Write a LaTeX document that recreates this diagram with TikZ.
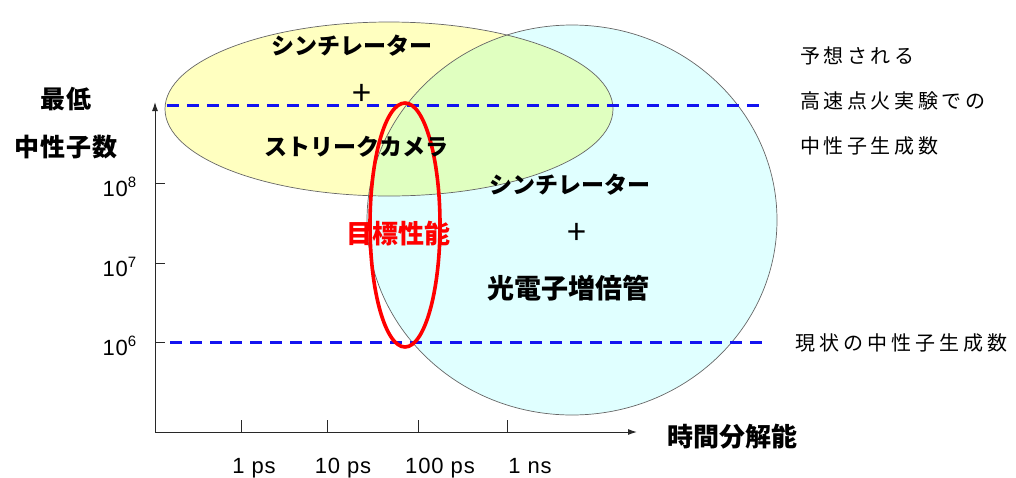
\documentclass[tikz,border=0pt]{standalone}
\usepackage{fontspec}
\setmainfont{Noto Sans CJK JP}
\newfontfamily\jp{Noto Sans CJK JP}
\newfontfamily\lat{Liberation Sans}
\usetikzlibrary{arrows.meta}
\definecolor{ylw}{RGB}{255,255,192}
\definecolor{cyn}{RGB}{224,255,255}
\definecolor{bdash}{RGB}{20,20,240}
\tikzset{
  bx/.style={inner sep=0pt},
  jb/.style={bx,font=\jp\bfseries\fontsize{23}{23}\selectfont},
  jr/.style={bx,anchor=west,font=\jp\addfontfeature{LetterSpace=18}\fontsize{20}{20}\selectfont},
  tl/.style={bx,font=\lat\addfontfeature{LetterSpace=4}\fontsize{22}{22}\selectfont},
  axis/.style={line width=1pt,draw={rgb,255:red,40;green,40;blue,40},-{Latex[length=9pt,width=6pt]}},
  tick/.style={line width=0.8pt,draw={rgb,255:red,40;green,40;blue,40}},
  bline/.style={draw=bdash,line width=3pt,dash pattern=on 12pt off 8pt},
  ell/.style={draw=gray!80!black,line width=0.7pt},
}
\begin{document}
\begin{tikzpicture}[x=1pt,y=-1pt]
\useasboundingbox (0,0) rectangle (1016,477);
% ellipses
\fill[ylw] (389,109) ellipse [x radius=224,y radius=87];
\fill[cyn,blend mode=multiply] (572,220) ellipse [x radius=205,y radius=195];
\draw[ell] (572,220) ellipse [x radius=205,y radius=195];
\draw[ell] (389,109) ellipse [x radius=224,y radius=87];
% axes
\coordinate (O) at (155,432);
\coordinate (Ytop) at (155,102);
\coordinate (Xend) at (637,432);
\draw[axis] (O) -- (Ytop);
\draw[axis] (O) -- (Xend);
% y ticks
\foreach \y/\e [count=\i] in {183/8,263/7,342/6}{
  \coordinate (yt\i) at (155,\y);
  \draw[tick] (yt\i) -- ++(10,0);
  \node[tl,anchor=east] (yl\i) at (137,\y+4) {10\textsuperscript{\fontsize{15}{15}\selectfont\raisebox{1pt}{\e}}};
}
% x ticks
\foreach \x/\t/\lx [count=\i] in {241/1 ps/254,327/10 ps/343,418/100 ps/440,507/1 ns/530}{
  \coordinate (xt\i) at (\x,432);
  \draw[tick] (xt\i) -- ++(0,-12);
  \node[tl,anchor=base] (xl\i) at (\lx,473) {\t};
}
% dashed lines
\coordinate (d1a) at (167,105);
\coordinate (d1b) at (764,105);
\coordinate (d2a) at (170,342);
\coordinate (d2b) at (764,342);
\draw[bline] (d1a) -- (d1b);
\draw[bline] (d2a) -- (d2b);
% red ellipse
\draw[red,line width=3.6pt] (405,225) ellipse [x radius=35,y radius=122];
\node[jb,text=red,font=\jp\bfseries\fontsize{26}{26}\selectfont] (goal) at (398,234) {目標性能};
% ellipse texts
\node[jb] (s1) at (352,46) {シンチレーター};
\node[jb,font=\jp\fontsize{34}{34}\selectfont] (p1) at (362,95) {+};
\node[jb] (sc) at (356,147) {ストリークカメラ};
\node[jb] (s2) at (570,185) {シンチレーター};
\node[jb,font=\jp\fontsize{34}{34}\selectfont] (p2) at (577,234) {+};
\node[jb,font=\jp\bfseries\fontsize{27}{27}\selectfont] (pm) at (568,288) {光電子増倍管};
% axis labels
\node[jb,font=\jp\bfseries\addfontfeature{LetterSpace=3}\fontsize{25}{25}\selectfont] (lo) at (66,99) {最低};
\node[jb,font=\jp\bfseries\addfontfeature{LetterSpace=3}\fontsize{25}{25}\selectfont] (nn) at (66,147) {中性子数};
\node[jb,font=\jp\bfseries\fontsize{26}{26}\selectfont] (tr) at (732,437) {時間分解能};
% right texts
\node[jr] (r1) at (800,56) {予想される};
\node[jr] (r2) at (800,101) {高速点火実験での};
\node[jr] (r3) at (800,146) {中性子生成数};
\node[jr,font=\jp\addfontfeature{LetterSpace=20}\fontsize{20}{20}\selectfont] (r4) at (795,343) {現状の中性子生成数};
\end{tikzpicture}
\end{document}
